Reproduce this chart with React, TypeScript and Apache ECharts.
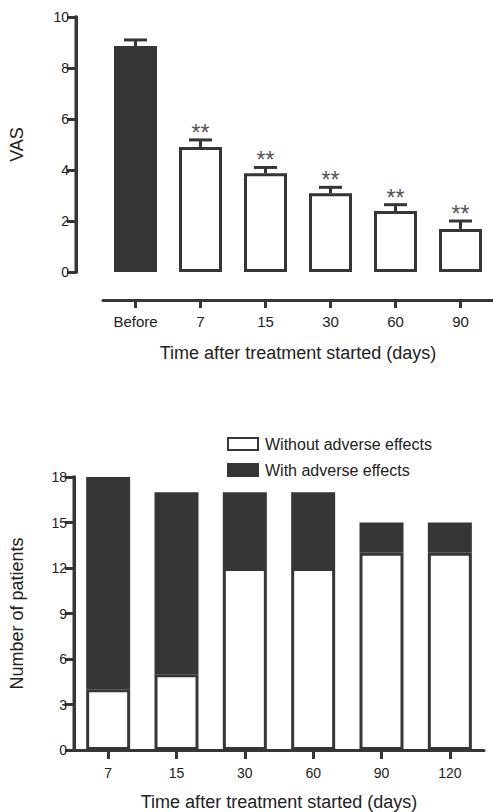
import React, { useEffect, useRef } from "react";
import * as echarts from "echarts";

// ---- Top chart data (VAS) ----
const vasCategories = ["Before", "7", "15", "30", "60", "90"];
const vasMeans = [8.86, 4.9, 3.87, 3.09, 2.39, 1.69];
const vasErrTop = [9.1, 5.18, 4.1, 3.32, 2.64, 2.0];
const vasSig = ["", "**", "**", "**", "**", "**"];
const vasTicks = { min: 0, max: 10, interval: 2 };

// ---- Bottom chart data (patients) ----
const ptCategories = ["7", "15", "30", "60", "90", "120"];
const ptWithout = [4, 5, 12, 12, 13, 13];
const ptWith = [14, 12, 5, 5, 2, 2];
const ptTicks = { min: 0, max: 18, interval: 3 };

const DARK = "#363636";
const TEXT = "#222";
const FONT = "Liberation Sans, Arial, sans-serif";

export default function App() {
  const ref = useRef<HTMLDivElement>(null);

  useEffect(() => {
    if (!ref.current) return;
    const chart = echarts.init(ref.current, undefined, { renderer: "svg" });

    const axisLine = () => ({ show: true, onZero: false, lineStyle: { color: DARK, width: 3 } });
    const axisTick = (len: number) => ({
      show: true,
      inside: false,
      length: len,
      lineStyle: { color: DARK, width: 3 },
    });
    const yAxisLineSeries = (grid: number, offset: number, t: { min: number; max: number }) => ({
      type: "custom",
      xAxisIndex: grid,
      yAxisIndex: grid,
      silent: true,
      clip: false,
      z: 10,
      data: [[0, t.min, t.max]],
      renderItem: (params: any, api: any) => {
        const lo = api.coord([0, api.value(1)]);
        const hi = api.coord([0, api.value(2)]);
        const x = params.coordSys.x - offset;
        return {
          type: "rect",
          shape: { x: x - 1.5, y: hi[1] - 1.5, width: 3, height: lo[1] - hi[1] + 3 },
          style: { fill: DARK },
        };
      },
    });

    const option: any = {
      animation: false,
      legend: {
        orient: "vertical",
        left: 222,
        top: 431,
        itemWidth: 30,
        itemHeight: 12,
        itemGap: 10,
        icon: "rect",
        data: ["Without adverse effects", "With adverse effects"],
        textStyle: { fontSize: 16, color: TEXT, fontFamily: FONT, padding: [0, 0, 0, 2] },
        selectedMode: false,
      },
      grid: [
        { left: 101, top: 17, width: 393, height: 255 },
        { left: 72, top: 477, width: 412, height: 275 },
      ],
      xAxis: [
        {
          type: "category",
          gridIndex: 0,
          data: vasCategories,
          offset: 28,
          axisLine: axisLine(),
          axisTick: { ...axisTick(8), alignWithLabel: true },
          axisLabel: { fontSize: 15, color: TEXT, margin: 14, fontFamily: FONT },
          name: "Time after treatment started (days)",
          nameLocation: "middle",
          nameGap: 44,
          nameTextStyle: { fontSize: 18, color: TEXT, fontFamily: FONT },
          splitLine: { show: false },
        },
        {
          type: "category",
          gridIndex: 1,
          data: ptCategories,
          axisLine: axisLine(),
          axisTick: { ...axisTick(9), alignWithLabel: true },
          axisLabel: { fontSize: 14, color: TEXT, margin: 16, fontFamily: FONT },
          name: "Time after treatment started (days)",
          nameLocation: "middle",
          nameGap: 43,
          nameTextStyle: { fontSize: 18, color: TEXT, fontFamily: FONT },
          splitLine: { show: false },
        },
      ],
      yAxis: [
        {
          type: "value",
          gridIndex: 0,
          position: "left",
          min: vasTicks.min,
          max: vasTicks.max,
          interval: vasTicks.interval,
          offset: 27,
          axisLine: axisLine(),
          axisTick: axisTick(9),
          axisLabel: { fontSize: 14, color: TEXT, margin: 7, fontFamily: FONT },
          splitLine: { show: false },
          name: "VAS",
          nameLocation: "middle",
          nameGap: 50,
          nameRotate: 90,
          nameTextStyle: { fontSize: 18, color: TEXT, fontFamily: FONT },
        },
        {
          type: "value",
          gridIndex: 1,
          position: "left",
          min: ptTicks.min,
          max: ptTicks.max,
          interval: ptTicks.interval,
          axisLine: axisLine(),
          axisTick: axisTick(9),
          axisLabel: { fontSize: 14, color: TEXT, margin: 7, fontFamily: FONT },
          splitLine: { show: false },
          name: "Number of patients",
          nameLocation: "middle",
          nameGap: 48,
          nameRotate: 90,
          nameTextStyle: { fontSize: 18, color: TEXT, fontFamily: FONT },
        },
      ],
      series: [
        {
          type: "bar",
          xAxisIndex: 0,
          yAxisIndex: 0,
          barWidth: 43,
          data: vasMeans.map((v, i) => ({
            value: v,
            itemStyle: {
              color: i === 0 ? DARK : "#fff",
              borderColor: DARK,
              borderWidth: 3,
            },
          })),
          z: 2,
        },
        {
          type: "custom",
          xAxisIndex: 0,
          yAxisIndex: 0,
          data: vasMeans.map((m, i) => [i, m, vasErrTop[i]]),
          z: 1,
          renderItem: (params: any, api: any) => {
            const idx = api.value(0);
            const p0 = api.coord([idx, api.value(1)]);
            const p1 = api.coord([idx, api.value(2)]);
            const children: any[] = [
              {
                type: "line",
                shape: { x1: p0[0], y1: p0[1], x2: p1[0], y2: p1[1] },
                style: { stroke: DARK, lineWidth: 3 },
              },
              {
                type: "line",
                shape: { x1: p1[0] - 11.5, y1: p1[1], x2: p1[0] + 11.5, y2: p1[1] },
                style: { stroke: DARK, lineWidth: 3 },
              },
            ];
            const s = vasSig[idx];
            if (s) {
              children.push({
                type: "text",
                style: {
                  text: s,
                  x: p1[0],
                  y: p1[1] - 7,
                  align: "center",
                  verticalAlign: "middle",
                  fontSize: 23,
                  fontFamily: FONT,
                  fill: "#555",
                },
              });
            }
            return { type: "group", children };
          },
        },
        yAxisLineSeries(0, 27, vasTicks),
        {
          name: "Without adverse effects",
          type: "bar",
          xAxisIndex: 1,
          yAxisIndex: 1,
          stack: "pt",
          barWidth: 44,
          data: ptWithout,
          itemStyle: { color: "#fff", borderColor: DARK, borderWidth: 3 },
        },
        {
          name: "With adverse effects",
          type: "bar",
          xAxisIndex: 1,
          yAxisIndex: 1,
          stack: "pt",
          barWidth: 44,
          data: ptWith,
          itemStyle: { color: DARK, borderColor: DARK, borderWidth: 3 },
        },
        yAxisLineSeries(1, 0, ptTicks),
      ],
    };

    chart.setOption(option);
    return () => chart.dispose();
  }, []);

  return (
    <div
      ref={ref}
      style={{ position: "fixed", left: 0, top: 0, width: 493, height: 812, background: "#fff" }}
    />
  );
}
